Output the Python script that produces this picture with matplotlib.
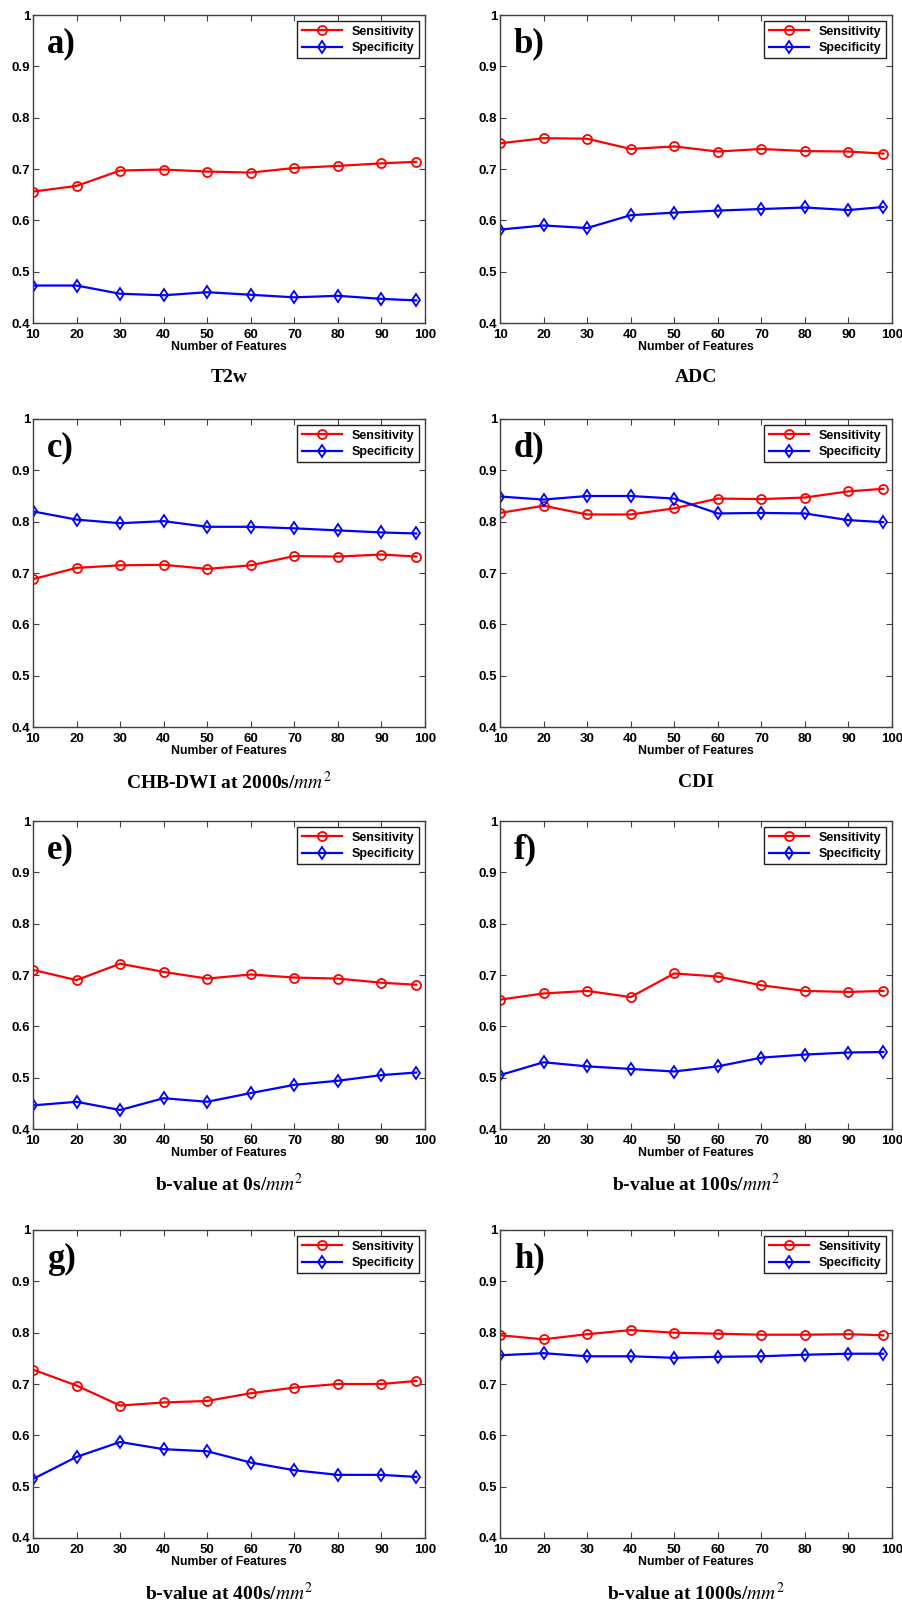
import matplotlib
matplotlib.use("Agg")
import matplotlib.pyplot as plt

plt.rcParams["mathtext.fontset"] = "stix"

features = [10, 20, 30, 40, 50, 60, 70, 80, 90, 98]
letters = ["a)", "b)", "c)", "d)", "e)", "f)", "g)", "h)"]
subtitles = [
    "T2w",
    "ADC",
    "CHB-DWI at 2000s/$mm^2$",
    "CDI",
    "b-value at 0s/$mm^2$",
    "b-value at 100s/$mm^2$",
    "b-value at 400s/$mm^2$",
    "b-value at 1000s/$mm^2$",
]

sens_a = [0.656, 0.667, 0.697, 0.699, 0.695, 0.693, 0.702, 0.706, 0.711, 0.714]
spec_a = [0.473, 0.473, 0.457, 0.454, 0.460, 0.455, 0.450, 0.453, 0.447, 0.444]
sens_b = [0.750, 0.760, 0.759, 0.739, 0.744, 0.734, 0.739, 0.735, 0.734, 0.730]
spec_b = [0.582, 0.590, 0.585, 0.610, 0.615, 0.619, 0.622, 0.625, 0.620, 0.626]
sens_c = [0.688, 0.710, 0.715, 0.716, 0.708, 0.715, 0.733, 0.732, 0.736, 0.732]
spec_c = [0.820, 0.804, 0.797, 0.801, 0.790, 0.790, 0.787, 0.783, 0.779, 0.777]
sens_d = [0.817, 0.831, 0.814, 0.814, 0.826, 0.845, 0.844, 0.847, 0.859, 0.864]
spec_d = [0.849, 0.843, 0.850, 0.850, 0.845, 0.816, 0.817, 0.816, 0.803, 0.799]
sens_e = [0.710, 0.690, 0.722, 0.706, 0.693, 0.701, 0.695, 0.693, 0.685, 0.681]
spec_e = [0.446, 0.453, 0.437, 0.460, 0.453, 0.470, 0.486, 0.494, 0.505, 0.510]
sens_f = [0.652, 0.664, 0.669, 0.657, 0.703, 0.697, 0.680, 0.669, 0.667, 0.669]
spec_f = [0.505, 0.530, 0.522, 0.517, 0.512, 0.522, 0.539, 0.545, 0.549, 0.550]
sens_g = [0.728, 0.697, 0.658, 0.664, 0.667, 0.682, 0.693, 0.700, 0.700, 0.706]
spec_g = [0.515, 0.558, 0.587, 0.573, 0.569, 0.547, 0.532, 0.523, 0.523, 0.519]
sens_h = [0.795, 0.787, 0.797, 0.805, 0.800, 0.798, 0.796, 0.796, 0.797, 0.795]
spec_h = [0.756, 0.760, 0.754, 0.754, 0.751, 0.753, 0.754, 0.757, 0.759, 0.759]

sensitivity = [sens_a, sens_b, sens_c, sens_d, sens_e, sens_f, sens_g, sens_h]
specificity = [spec_a, spec_b, spec_c, spec_d, spec_e, spec_f, spec_g, spec_h]

W, H = 902, 1601
fig = plt.figure(figsize=(W / 100, H / 100), dpi=100)

# pixel boxes of the axes: (left, top) for each panel
lefts = [33, 500]
tops = [15, 419, 821, 1230]
ax_w, ax_h = 392, 308

sans = "Liberation Sans"
serif = "Liberation Serif"

for i in range(8):
    row, col = divmod(i, 2)
    left, top = lefts[col], tops[row]
    ax = fig.add_axes([left / W, 1 - (top + ax_h) / H, ax_w / W, ax_h / H])
    ax.plot(features, sensitivity[i], color="#ff0000", marker="o", mfc="none",
            ms=6.5, mew=1.3, lw=1.6, label="Sensitivity")
    ax.plot(features, specificity[i], color="#0000ff", marker="d", mfc="none",
            ms=6.5, mew=1.3, lw=1.6, label="Specificity")
    ax.set_xlim(10, 100)
    ax.set_ylim(0.4, 1.0)
    ax.set_xticks(range(10, 101, 10))
    ax.set_yticks([0.4, 0.5, 0.6, 0.7, 0.8, 0.9, 1.0])
    ax.set_yticklabels(["0.4", "0.5", "0.6", "0.7", "0.8", "0.9", "1"])
    ax.tick_params(direction="in", top=True, right=True, length=4, width=0.8,
                   color="#404040")
    ax.tick_params(axis="x", pad=4.5)
    ax.tick_params(axis="y", pad=2)
    for lab in ax.get_xticklabels() + ax.get_yticklabels():
        lab.set_fontfamily(sans)
        lab.set_fontweight("bold")
        lab.set_fontsize(9.5)
    for sp in ax.spines.values():
        sp.set_color("#404040")
        sp.set_linewidth(1.0)
    ax.set_xlabel("Number of Features", fontfamily=sans, fontweight="bold",
                  fontsize=8.8, labelpad=0)
    leg = ax.legend(loc="upper right", fancybox=False, framealpha=1,
                    edgecolor="#202020", handlelength=3.2, borderaxespad=0.5,
                    labelspacing=0.35, borderpad=0.35,
                    prop={"family": sans, "weight": "bold", "size": 9})
    leg.get_frame().set_linewidth(1.0)
    ax.text(0.035, 0.905, letters[i], transform=ax.transAxes, fontfamily=serif,
            fontweight="bold", fontsize=25, va="center", ha="left")
    fig.text((left + ax_w / 2) / W, 1 - (top + ax_h + 55) / H, subtitles[i],
             fontfamily=serif, fontweight="bold", fontsize=14,
             ha="center", va="center")

fig.savefig("out.png", dpi=100, facecolor="white")
